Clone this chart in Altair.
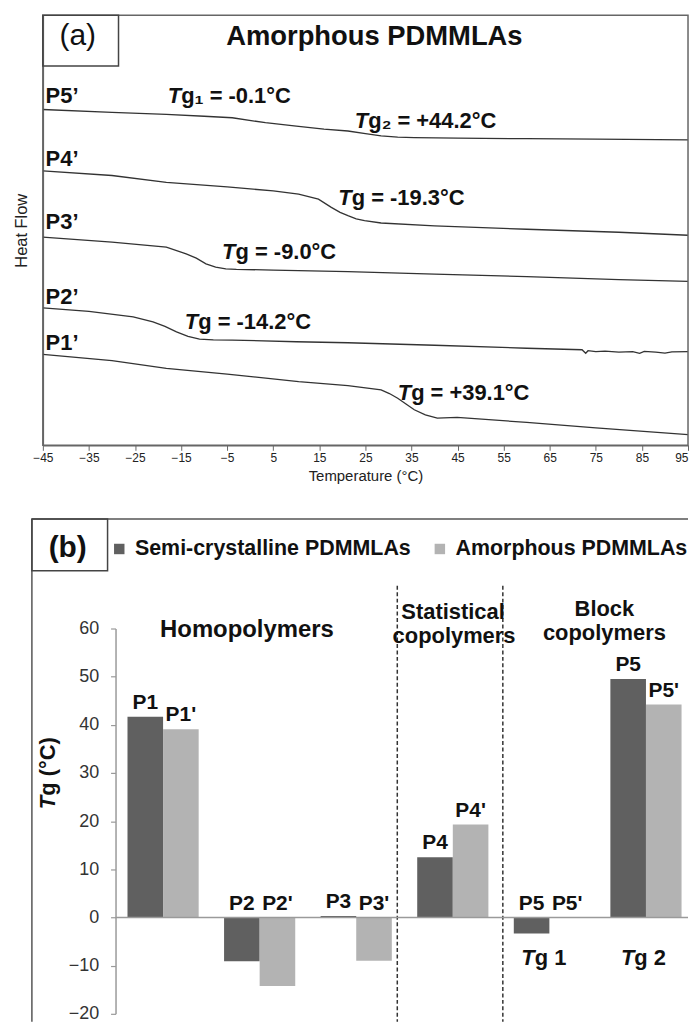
import altair as alt
import pandas as pd

FONT = "Liberation Sans"

# ---------------- Panel (a): DSC traces (heat flow, arbitrary units) ----------------
p5_T = [-45, -30, -18.2, -10, -3.9, 3.3, 10, 16, 21.2, 25, 28.4, 32, 35.6, 45, 60, 75, 95]
p5_hf = [337.3, 334.5, 332.3, 330.5, 329, 324, 320.5, 317.5, 315.7, 313, 310.7, 309.5, 309, 308.5, 308, 307.5, 306.7]
p4_T = [-45, -30, -18.2, -5, 5, 10.5, 14.8, 17.6, 19.5, 21.2, 23, 24.8, 28.4, 40, 60, 80, 95]
p4_hf = [275.7, 271, 264, 259.5, 255.5, 252.3, 247.3, 239, 234, 230.7, 227.5, 225.7, 223.3, 220.5, 217, 214, 211]
p3_T = [-45, -30, -18.2, -13.9, -11.7, -9.6, -7.5, -5.3, -3, 5, 21.2, 40, 60, 80, 95]
p3_hf = [209, 204, 199, 192.3, 188, 182.3, 179, 177.3, 176.7, 176, 174.5, 172, 169.5, 166.5, 164.7]
p2_T = [-45, -35, -25.4, -21.1, -18.5, -16, -13.5, -11, -8, -3.9, 10, 21.2, 40, 60,
        72.0, 72.8, 73.3, 75, 77, 80, 83, 84.5, 85.5, 88, 90, 91.5, 95]
p2_hf = [138, 134.5, 129, 124, 119.5, 114, 109.5, 106.7, 106, 105.7, 104, 103, 100.5, 97.5,
         96, 92.5, 95, 94, 94.5, 93.7, 94, 92.3, 94.3, 93.5, 92.5, 93.8, 94]
p1_T = [-45, -30, -18.2, -5, 10.5, 21.2, 28.4, 30.2, 32.0, 33.8, 35.6, 38, 40.6, 44.9, 60, 75, 95]
p1_hf = [91.3, 85, 77.3, 71.5, 64, 60, 55.7, 52, 47.3, 41.5, 35.7, 30.5, 27.3, 28, 23, 17.5, 10.7]

curve_names = ["P5’", "P4’", "P3’", "P2’", "P1’"]
curve_T = [p5_T, p4_T, p3_T, p2_T, p1_T]
curve_hf = [p5_hf, p4_hf, p3_hf, p2_hf, p1_hf]

x_ticks_a = [-45, -35, -25, -15, -5, 5, 15, 25, 35, 45, 55, 65, 75, 85, 95]

# ---------------- Panel (b): Tg bar chart ----------------
groups = ["P1", "P2", "P3", "P4", "P5 Tg1", "P5 Tg2"]
series = ["Semi-crystalline PDMMLAs", "Amorphous PDMMLAs"]
tg_semi = [41.7, -9.1, 0.3, 12.5, -3.3, 49.5]
tg_amor = [39.1, -14.2, -9.0, 19.3, -0.1, 44.2]
lbl_semi = ["P1", "P2", "P3", "P4", "P5", "P5"]
lbl_amor = ["P1'", "P2'", "P3'", "P4'", "P5'", "P5'"]
y_ticks_b = [-20, -10, 0, 10, 20, 30, 40, 50, 60]

# ---------------- tables ----------------
rows = []
for name, Ts, hs in zip(curve_names, curve_T, curve_hf):
    for t, h in zip(Ts, hs):
        rows.append({"sample": name, "T": t, "hf": h})
dsc = pd.DataFrame(rows)

rows = []
for g, a, b, la, lb in zip(groups, tg_semi, tg_amor, lbl_semi, lbl_amor):
    rows.append({"grp": g, "series": series[0], "tg": a, "lbl": la})
    rows.append({"grp": g, "series": series[1], "tg": b, "lbl": lb})
bars_df = pd.DataFrame(rows)

one = alt.Data(values=[{}])

# ================= Panel (a) =================
WA, HA = 648, 432
FRAME = "#666666"

xA = alt.X("T:Q", title="Temperature (°C)",
           scale=alt.Scale(domain=[-45, 95], nice=False, zero=False),
           axis=alt.Axis(values=x_ticks_a, grid=False, domainColor=FRAME, domainWidth=1.5,
                         tickColor=FRAME, tickSize=5, labelFont=FONT, labelFontSize=12,
                         labelColor="#222", labelPadding=2, labelFlush=False,
                         labelAlign={"condition": {"test": "datum.value >= 95", "value": "right"},
                                     "value": "center"},
                         titleFont=FONT, titleFontSize=15, titleFontWeight="normal",
                         titleColor="#222", titlePadding=5))
yA = alt.Y("hf:Q", title="Heat Flow",
           scale=alt.Scale(domain=[0, HA], nice=False, zero=False),
           axis=alt.Axis(labels=False, ticks=False, grid=False, domainColor=FRAME, domainWidth=1.5,
                         titleFont=FONT, titleFontSize=16.5, titleFontWeight="normal",
                         titleColor="#222", titlePadding=13))

frame_a = alt.Chart(one).mark_rect(fillOpacity=0, stroke=FRAME, strokeWidth=1.5).encode(
    x=alt.value(0), x2=alt.value(WA), y=alt.value(0), y2=alt.value(HA))
box_a = alt.Chart(one).mark_rect(fillOpacity=0, stroke="#444", strokeWidth=1.5).encode(
    x=alt.value(0), x2=alt.value(76), y=alt.value(0), y2=alt.value(51))
lbl_box_a = alt.Chart(one).mark_text(text="(a)", font=FONT, fontSize=30, align="center",
                                     baseline="alphabetic", color="#111").encode(
    x=alt.value(35), y=alt.value(30))
title_a = alt.Chart(one).mark_text(text="Amorphous PDMMLAs", font=FONT, fontSize=27.5,
                                   fontWeight="bold", align="center", baseline="alphabetic",
                                   color="#111").encode(x=alt.value(333), y=alt.value(30))

lines = alt.Chart(dsc).mark_line(color="#333", strokeWidth=1.3).encode(
    x=xA, y=yA, detail="sample:N")


def note_a(text, T, hf, **kw):
    return alt.Chart(one).mark_text(text=text, font=FONT, fontSize=22, fontWeight="bold",
                                    align="left", baseline="alphabetic", color="#111", **kw).encode(
        x=alt.XDatum(T), y=alt.YDatum(hf))


def tg_a(rest, T, hf):
    return [note_a("T", T, hf, fontStyle="italic"), note_a(rest, T, hf, dx=13.5)]


notes = [
    note_a("P5’", -44.4, 344), note_a("P4’", -44.4, 281), note_a("P3’", -44.4, 217),
    note_a("P2’", -44.4, 142), note_a("P1’", -44.4, 96),
]
notes += tg_a("g₁ = -0.1°C", -17.9, 344)
notes += tg_a("g₂ = +44.2°C", 22.7, 319)
notes += tg_a("g = -19.3°C", 19.1, 241)
notes += tg_a("g = -9.0°C", -6.1, 187)
notes += tg_a("g = -14.2°C", -14.2, 117)
notes += tg_a("g = +39.1°C", 32.0, 46)

chart_a = alt.layer(lines, frame_a, box_a, lbl_box_a, title_a, *notes).properties(width=WA, height=HA)

# ================= Panel (b) =================
WB, HB = 648, 387
AX = 73  # y axis sits 73 px right of the panel's left edge
BOTTOM = 395

xB = alt.X("grp:N", scale=alt.Scale(domain=groups, paddingInner=0.263, paddingOuter=0.4717, align=0.929),
           axis=None)
xoB = alt.XOffset("series:N", scale=alt.Scale(domain=series))


def yB(field):
    return alt.Y(field, title="",
                 scale=alt.Scale(domain=[-20, 60], nice=False, zero=False),
                 axis=alt.Axis(values=y_ticks_b, offset=-AX, grid=False, domainColor="#9a9a9a",
                               domainWidth=1.5, tickColor="#9a9a9a", tickSize=5, tickWidth=1.2,
                               labelFont=FONT, labelFontSize=18, labelColor="#333", labelPadding=12))


bars = alt.Chart(bars_df).mark_bar().encode(
    x=xB, xOffset=xoB, y=yB("tg:Q"), y2=alt.Y2Datum(0),
    color=alt.Color("series:N", scale=alt.Scale(domain=series, range=["#606060", "#b3b3b3"]),
                    legend=alt.Legend(title=None, orient="none", legendX=66, legendY=-91,
                                      direction="horizontal", symbolType="square", symbolSize=110,
                                      symbolStrokeWidth=0, symbolOpacity=1, labelFont=FONT,
                                      labelFontSize=21.5, labelFontWeight="bold", labelColor="#111",
                                      labelLimit=600, labelOffset=5, columnPadding=18)))

bar_labels = alt.Chart(bars_df).transform_calculate(anchor="max(datum.tg, 0)").mark_text(
    dy=-8, baseline="alphabetic", align="center", font=FONT, fontSize=21, fontWeight="bold",
    color="#111").encode(x=xB, xOffset=xoB, y=yB("anchor:Q"), text="lbl:N")

zero_line = alt.Chart(one).mark_rule(color="#9a9a9a", strokeWidth=1.5).encode(
    y=alt.YDatum(0), x=alt.value(AX), x2=alt.value(WB))

sep1 = alt.Chart(one).mark_rule(color="#333", strokeWidth=1.5, strokeDash=[4, 2.5]).encode(
    x=alt.value(356), y=alt.value(-43), y2=alt.value(BOTTOM))
sep2 = alt.Chart(one).mark_rule(color="#333", strokeWidth=1.5, strokeDash=[4, 2.5]).encode(
    x=alt.value(462), y=alt.value(-43), y2=alt.value(BOTTOM))

frame_top = alt.Chart(one).mark_rule(color="#555", strokeWidth=1.5).encode(
    x=alt.value(-11), x2=alt.value(WB), y=alt.value(-110))
frame_left = alt.Chart(one).mark_rule(color="#555", strokeWidth=1.5).encode(
    x=alt.value(-11), y=alt.value(-110), y2=alt.value(BOTTOM))
box_b = alt.Chart(one).mark_rect(fillOpacity=0, stroke="#444", strokeWidth=1.5).encode(
    x=alt.value(-11), x2=alt.value(65), y=alt.value(-110), y2=alt.value(-58))
lbl_box_b = alt.Chart(one).mark_text(text="(b)", font=FONT, fontSize=30, fontWeight="bold",
                                     align="center", baseline="alphabetic", color="#111").encode(
    x=alt.value(25), y=alt.value(-72))


def note_b(text, x, y, **kw):
    params = dict(font=FONT, fontSize=22, fontWeight="bold", align="center",
                  baseline="alphabetic", color="#111")
    params.update(kw)
    return alt.Chart(one).mark_text(text=text, **params).encode(x=alt.value(x), y=alt.value(y))


group_titles = [
    note_b("Homopolymers", 205, 9, fontSize=24),
    note_b("Statistical", 412, -10), note_b("copolymers", 413, 15),
    note_b("Block", 564, -13), note_b("copolymers", 564, 12),
]
tg_sub = [
    note_b("T", 494, 338, align="right", fontStyle="italic"), note_b("g 1", 494, 338, align="left"),
    note_b("T", 594, 338, align="right", fontStyle="italic"), note_b("g 2", 594, 338, align="left"),
]
ytitle = [
    note_b("T", 5, 168, align="right", baseline="middle", angle=270, fontStyle="italic"),
    note_b("g (°C)", 5, 168, align="left", baseline="middle", angle=270),
]

chart_b = alt.layer(sep1, sep2, frame_top, frame_left, box_b, lbl_box_b, bars, zero_line, bar_labels,
                    *group_titles, *tg_sub, *ytitle).properties(width=WB, height=HB)

chart = alt.vconcat(chart_a, chart_b, spacing=184, bounds="flush").resolve_legend(
    color="independent").configure_view(stroke="transparent").properties(
    padding={"left": 5, "top": 3, "right": 0, "bottom": 0})

chart.save("out.html", embed_options={"renderer": "svg", "actions": False})
